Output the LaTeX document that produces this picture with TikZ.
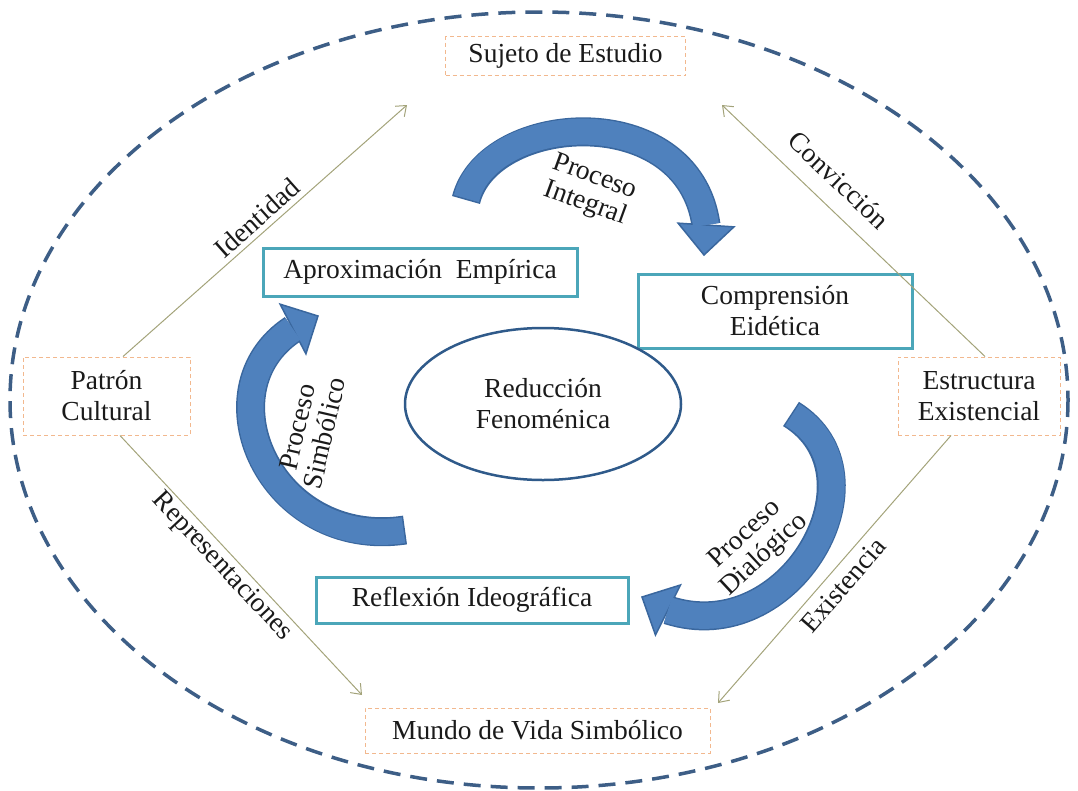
\documentclass[tikz,border=0pt]{standalone}
\usepackage{fontspec}
\setmainfont{Liberation Serif}
\usetikzlibrary{calc,arrows.meta,shapes.geometric}
\definecolor{ellc}{HTML}{3D5E86}
\definecolor{orn}{HTML}{F2B88E}
\definecolor{tealc}{HTML}{4BA6B9}
\definecolor{olivec}{HTML}{A3A37A}
\definecolor{bfill}{HTML}{4F81BD}
\definecolor{bdark}{HTML}{3A679E}
\definecolor{cellc}{HTML}{2F5A8A}
\definecolor{txt}{HTML}{1A1A1A}
\newcommand\blockarrow[5]{%
  \draw[line width=29pt, color=bdark] (#1) .. controls (#2) and (#3) .. (#4);
  \fill[bfill, draw=bdark, line width=1.5pt, line join=miter] ($(#4)!28pt!90:(#5)$) -- (#5) -- ($(#4)!28pt!-90:(#5)$) -- cycle;
  \draw[line width=26pt, color=bfill, shorten <=1.5pt] (#1) .. controls (#2) and (#3) .. (#4);
}
\begin{document}
\begin{tikzpicture}[x=1pt,y=-1pt, font=\fontsize{27.5}{31}\selectfont, text=txt,
  obox/.style={draw=orn, dash pattern=on 4pt off 3pt, line width=1pt, inner sep=0pt, align=center},
  tbox/.style={draw=tealc, line width=3pt, inner sep=0pt, align=center},
  thinarrow/.style={draw=olivec, line width=1pt, -{Straight Barb[length=9pt,width=14pt]}},
  lbl/.style={inner sep=0pt, align=center},
  plbl/.style={inner sep=0pt, align=center, font=\fontsize{27.5}{28}\selectfont}]
\useasboundingbox (0,0) rectangle (1078,790);

% outer dashed ellipse
\draw[ellc, line width=3.5pt, dash pattern=on 17pt off 10pt] (539,400) ellipse [x radius=529, y radius=388];

% dashed boxes
\node[obox, minimum width=240pt, minimum height=39pt] (se) at (565.5,56) {Sujeto de Estudio};
\node[obox, minimum width=167pt, minimum height=78pt] (pc) at (106.5,396) {Patrón\\Cultural};
\node[obox, minimum width=162pt, minimum height=78pt] (ee) at (979,396) {Estructura\\Existencial};
\node[obox, minimum width=345pt, minimum height=45pt] (mv) at (537.5,730.5) {Mundo de Vida Simbólico};

% teal boxes
\node[tbox, minimum width=314pt, minimum height=48pt] (ae) at (420,272) {Aproximación\hspace{0.25em} Empírica};
\node[tbox, minimum width=274pt, minimum height=74pt] (ce) at (775,311) {Comprensión\\Eidética};
\node[tbox, minimum width=312pt, minimum height=46pt] (ri) at (472,600) {Reflexión Ideográfica};

% central ellipse
\node[ellipse, draw=cellc, line width=2.5pt, minimum width=276pt, minimum height=152pt, inner sep=0pt, align=center] (rf) at (543,404) {Reducción\\Fenoménica};

% thin arrows
\coordinate (idE) at (407,105);
\coordinate (cvE) at (722,105);
\coordinate (rpE) at (362,695);
\coordinate (exE) at (718,703);
\draw[thinarrow] ($(pc.north)+(16.5,0)$) -- (idE);
\draw[thinarrow] ($(ee.north)+(6,0)$) -- (cvE);
\draw[thinarrow] ($(pc.south)+(13.5,0)$) -- (rpE);
\draw[thinarrow] ($(ee.south)+(-28,0)$) -- (exE);

\node[lbl, rotate=41.6] (lid) at (257,218) {Identidad};
\node[lbl, rotate=-43.8] (lcv) at (839,180) {Convicción};
\node[lbl, rotate=-47] (lrp) at (222,567) {Representaciones};
\node[lbl, rotate=49] (lex) at (843,585) {Existencia};

% block arrows
\coordinate (i0) at (466,200); \coordinate (i1) at (488,112); \coordinate (i2) at (688,98); \coordinate (iB) at (706,225); \coordinate (iT) at (704,255);
\blockarrow{i0}{i1}{i2}{iB}{iT}
\coordinate (d0) at (791,414); \coordinate (d1) at (890,475); \coordinate (d2) at (790,650); \coordinate (dB) at (668,610); \coordinate (dT) at (642,597);
\blockarrow{d0}{d1}{d2}{dB}{dT}
\coordinate (s0) at (405,530); \coordinate (s1) at (270,550); \coordinate (s2) at (200,390); \coordinate (sB) at (293,329); \coordinate (sT) at (318,316);
\blockarrow{s0}{s1}{s2}{sB}{sT}

\node[plbl, rotate=-20] (lpi) at (590,191) {Proceso\\Integral};
\node[plbl, rotate=43] (lpd) at (755,545) {Proceso\\Dialógico};
\node[plbl, rotate=77] (lps) at (311,430) {Proceso\\Simbólico};
\end{tikzpicture}
\end{document}
